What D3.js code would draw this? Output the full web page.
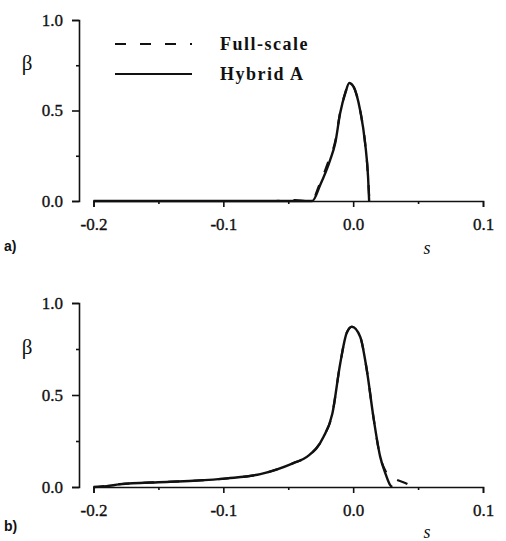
<!DOCTYPE html>
<html>
<head>
<meta charset="utf-8">
<script src="https://cdn.jsdelivr.net/npm/d3@7"></script>
<style>
  html, body { margin: 0; padding: 0; background: #fff; }
  svg { display: block; }
  .tick text { font-family: "Liberation Serif", "Times New Roman", serif; font-size: 17px; fill: #111; stroke: #111; stroke-width: 0.35; }
  .domain, .tick line { stroke: #111; stroke-width: 1.6; }
</style>
</head>
<body>
<div id="chart"></div>
<script>
// panel a) : top
const aFullS   = [-0.2, -0.06, -0.045, -0.035, -0.032, -0.026, -0.019, -0.0138, -0.010, -0.006, -0.003, 0.0, 0.0054, 0.0092, 0.0115, 0.0125];
const aFullB   = [0, 0, 0.005, 0, 0, 0.09, 0.22, 0.33, 0.49, 0.60, 0.655, 0.637, 0.50, 0.32, 0.13, 0];
const aHybS    = [-0.2, -0.0315, -0.0254, -0.0177, -0.0138, -0.010, -0.006, -0.003, 0.0, 0.0054, 0.0092, 0.0115, 0.0123];
const aHybB    = [0, 0, 0.088, 0.227, 0.32, 0.486, 0.597, 0.652, 0.635, 0.50, 0.32, 0.13, 0];

// panel b) : bottom
const bFullS   = [-0.2, -0.19, -0.18, -0.17, -0.15, -0.123, -0.097, -0.0715, -0.046, -0.0354, -0.023, -0.016, -0.010, -0.005, -0.001, 0.0054, 0.0105, 0.0156, 0.0208, 0.025, 0.028, 0.033, 0.042, 0.046];
const bFullB   = [0, 0.006, 0.016, 0.02, 0.026, 0.034, 0.047, 0.07, 0.13, 0.165, 0.27, 0.40, 0.67, 0.837, 0.871, 0.817, 0.636, 0.38, 0.165, 0.085, 0.055, 0.04, 0.016, 0];
const bHybS    = [-0.2, -0.19, -0.18, -0.17, -0.15, -0.123, -0.097, -0.0715, -0.046, -0.0354, -0.023, -0.016, -0.010, -0.005, -0.001, 0.0054, 0.0105, 0.0156, 0.0208, 0.025, 0.0285, 0.030];
const bHybB    = [0, 0.005, 0.014, 0.02, 0.026, 0.034, 0.047, 0.07, 0.13, 0.165, 0.27, 0.40, 0.67, 0.837, 0.871, 0.817, 0.636, 0.38, 0.165, 0.07, 0.01, 0];

const xTicks = [-0.2, -0.1, 0.0, 0.1];
const xMinor = [-0.15, -0.05, 0.05];
const yTicks = [0, 0.5, 1.0];
const yMinor = [0.25, 0.75];
const legendLabels = ["Full-scale", "Hybrid A"];
const panelLabels = ["a)", "b)"];

const W = 506, H = 541;
const svg = d3.select("#chart").append("svg").attr("width", W).attr("height", H);
const x = d3.scaleLinear().domain([-0.2, 0.1]).range([93.5, 483]);
const zip = (s, b) => s.map((v, i) => ({s: v, b: b[i]}));
const fmt = d => d3.format(".1f")(d).replace("\u2212", "-");

const panels = [
    {top: 20, base: 201, full: zip(aFullS, aFullB), hyb: zip(aHybS, aHybB), betaY: 63, tagY: 251, sY: 254},
    {top: 303, base: 487, full: zip(bFullS, bFullB), hyb: zip(bHybS, bHybB), betaY: 347, tagY: 531, sY: 538}
];

const drawPanel = (p, i) => {
    const y = d3.scaleLinear().domain([0, 1]).range([p.base, p.top]);
    const g = svg.append("g");

    // y axis
    g.append("g").attr("transform", "translate(79,0)")
        .call(d3.axisLeft(y).tickValues(yTicks).tickFormat(fmt).tickSize(7).tickSizeOuter(7).tickPadding(9));
    g.append("g").attr("transform", "translate(79,0)")
        .call(d3.axisLeft(y).tickValues(yMinor).tickFormat("").tickSize(3))
        .select(".domain").remove();

    // x axis
    g.append("g").attr("transform", `translate(0,${p.base})`)
        .call(d3.axisBottom(x).tickValues(xTicks).tickFormat(fmt).tickSize(6).tickSizeOuter(6).tickPadding(11));
    g.append("g").attr("transform", `translate(0,${p.base})`)
        .call(d3.axisBottom(x).tickValues(xMinor).tickFormat("").tickSize(3))
        .select(".domain").remove();

    // curves
    const line = d3.line().x(d => x(d.s)).y(d => y(d.b)).curve(d3.curveMonotoneX);
    g.append("path").datum(p.full).attr("d", line)
        .attr("fill", "none").attr("stroke", "#111").attr("stroke-width", 2.2).attr("stroke-dasharray", "11,14");
    g.append("path").datum(p.hyb).attr("d", line)
        .attr("fill", "none").attr("stroke", "#111").attr("stroke-width", 2.4).attr("stroke-linejoin", "round");

    // labels
    g.append("text").attr("x", 27).attr("y", p.betaY).attr("dy", "0.35em").attr("text-anchor", "middle")
        .style("font-family", "'Liberation Serif', serif").style("font-size", "21px").attr("fill", "#111").text("β");
    g.append("text").attr("x", 4).attr("y", p.tagY)
        .style("font-family", "'Liberation Sans', Arial, sans-serif").style("font-weight", "bold").style("font-size", "14px")
        .attr("fill", "#111").text(panelLabels[i]);
    g.append("text").attr("x", 427).attr("y", p.sY).attr("text-anchor", "middle")
        .style("font-family", "'Liberation Serif', serif").style("font-style", "italic").style("font-size", "18px")
        .attr("fill", "#111").text("s");
};

panels.forEach(drawPanel);

// legend (top panel only)
const legend = svg.append("g");
const legY = [44, 74];
legendLabels.forEach((label, i) => {
    legend.append("line").attr("x1", 115).attr("x2", 192).attr("y1", legY[i]).attr("y2", legY[i])
        .attr("stroke", "#111").attr("stroke-width", 2)
        .attr("stroke-dasharray", i === 0 ? "11,14" : null);
    legend.append("text").attr("x", 220).attr("y", legY[i]).attr("dy", "0.35em")
        .style("font-family", "'Liberation Serif', serif").style("font-weight", "bold").style("font-size", "18px")
        .style("letter-spacing", "1.5px").attr("fill", "#111").text(label);
});
</script>
</body>
</html>
